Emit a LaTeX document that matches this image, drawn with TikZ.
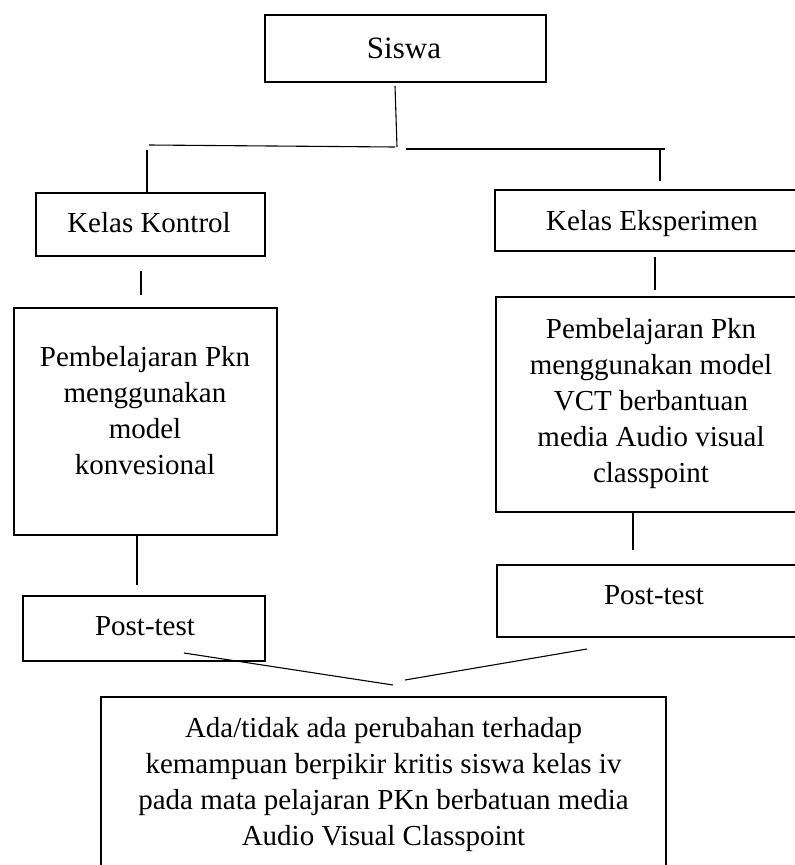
\documentclass[tikz,border=0pt]{standalone}
\usepackage{fontspec}
\setmainfont{Liberation Serif}
\begin{document}
\begin{tikzpicture}[x=1pt,y=-1pt,
  box/.style={draw, line width=2.2pt, inner sep=0pt},
  conn/.style={line width=1.1pt},
  txt/.style={inner sep=0pt, align=center, font=\fontsize{29}{36}\selectfont}]
\useasboundingbox (0,0) rectangle (795,865);
\clip (0,0) rectangle (795,865);
\fill[white] (0,0) rectangle (795,865);

% boxes
\node[box, minimum width=281pt, minimum height=67pt] (siswa) at (405.5,48.5) {};
\node[box, minimum width=229pt, minimum height=63pt] (kontrol) at (150.5,224.5) {};
\node[box, minimum width=325pt, minimum height=61pt] (eksp) at (657.5,220.5) {};
\node[box, minimum width=263pt, minimum height=227pt] (lpemb) at (145.5,421.5) {};
\node[box, minimum width=324pt, minimum height=215pt] (rpemb) at (658,404.5) {};
\node[box, minimum width=242pt, minimum height=65pt] (lpost) at (144,628.5) {};
\node[box, minimum width=323pt, minimum height=72pt] (rpost) at (658.5,601) {};
\node[box, minimum width=565pt, minimum height=203pt] (hasil) at (383.5,798.5) {};

% texts
\node[txt, anchor=base, font=\fontsize{31}{36}\selectfont] (tsiswa) at (404,58.3) {Siswa};
\node[txt, anchor=base] (tkontrol) at (149,232) {Kelas Kontrol};
\node[txt, anchor=base] (teksp) at (652,230) {Kelas Eksperimen};
\node[txt, anchor=north] (tlpemb) at (145,346) {Pembelajaran Pkn\\menggunakan\\model\\konvesional};
\node[txt, anchor=north] (trpemb) at (651,318) {Pembelajaran Pkn\\menggunakan model\\VCT berbantuan\\media Audio visual\\classpoint};
\node[txt, anchor=base] (tlpost) at (145,635) {Post-test};
\node[txt, anchor=base] (trpost) at (654,604) {Post-test};
\node[txt, anchor=north] (thasil) at (383.5,717) {Ada/tidak ada perubahan terhadap\\kemampuan berpikir kritis siswa kelas iv\\pada mata pelajaran PKn berbatuan media\\Audio Visual Classpoint};

% connector end points
\coordinate (s1) at (395,86);
\coordinate (s2) at (397,147);
\coordinate (hl1) at (149,145);
\coordinate (hl2) at (395,147);
\coordinate (hr1) at (406,149);
\coordinate (hr2) at (665,149);
\coordinate (vl1) at (147,150);
\coordinate (vl2) at (147,192);
\coordinate (vr1) at (660,150);
\coordinate (vr2) at (660,181);
\coordinate (k1) at (141,271);
\coordinate (k2) at (141,295);
\coordinate (e1) at (655,257);
\coordinate (e2) at (655,290);
\coordinate (lp1) at (137,535);
\coordinate (lp2) at (137,585);
\coordinate (rp1) at (633,513);
\coordinate (rp2) at (633,550);
\coordinate (dl1) at (184,653);
\coordinate (dl2) at (393,685);
\coordinate (dr1) at (587,649);
\coordinate (dr2) at (405,680);

\draw[conn] (s1) -- (s2);
\draw[conn] (hl1) -- (hl2);
\draw[conn] (hr1) -- (hr2);
\draw[conn] (vl1) -- (vl2);
\draw[conn] (vr1) -- (vr2);
\draw[conn] (k1) -- (k2);
\draw[conn] (e1) -- (e2);
\draw[conn] (lp1) -- (lp2);
\draw[conn] (rp1) -- (rp2);
\draw[conn] (dl1) -- (dl2);
\draw[conn] (dr1) -- (dr2);
\end{tikzpicture}
\end{document}
